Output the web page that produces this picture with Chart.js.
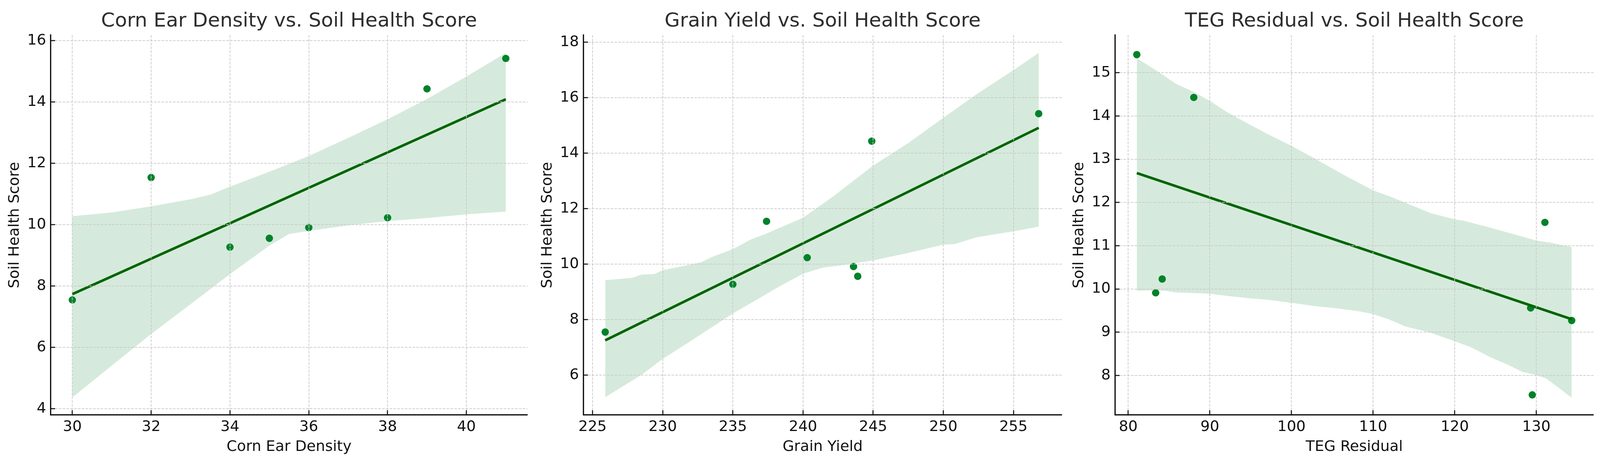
<!DOCTYPE html>
<html>
<head>
<meta charset="utf-8">
<script src="https://cdn.jsdelivr.net/npm/chart.js@4.4.1/dist/chart.umd.min.js"></script>
<style>
  html, body { margin: 0; padding: 0; background: #fff; overflow: hidden; }
  #wrap { position: relative; overflow: hidden; }
  .panel { position: absolute; top: 0; }
</style>
</head>
<body>
<div id="wrap"></div>
<script>
// shared y values (one per field), x values per panel
const soilHealth  = [7.55, 11.54, 9.27, 9.56, 9.91, 10.23, 14.43, 15.42];
const earDensity  = [30, 32, 34, 35, 36, 38, 39, 41];
const grainYield  = [225.9, 237.4, 235.0, 243.9, 243.6, 240.3, 244.9, 256.8];
const tegResidual = [129.5, 131.05, 134.33, 129.3, 83.36, 84.16, 88.03, 81.05];

// regression lines (read at both ends)
const earFitX = [30, 41];          const earFitY = [7.74, 14.09];
const yieldFitX = [225.9, 256.8];  const yieldFitY = [7.25, 14.91];
const tegFitX = [81.05, 134.33];   const tegFitY = [12.68, 9.30];

// confidence bands
const earUpX = [30, 31, 32, 33, 33.5, 34, 35, 36, 37, 38, 39, 40, 41];
const earUp  = [10.28, 10.4, 10.6, 10.83, 10.98, 11.24, 11.73, 12.24, 12.83, 13.44, 14.1, 14.83, 15.6];
const earLoX = [30, 31, 32, 33, 34, 35, 35.5, 36, 37, 38, 39, 40, 41];
const earLo  = [4.37, 5.41, 6.44, 7.41, 8.39, 9.32, 9.7, 9.8, 9.98, 10.12, 10.22, 10.34, 10.43];

const yieldUpX = [225.9, 227.8, 228.5, 229.4, 230, 231.2, 232.7, 233.6, 235, 236.3, 237.3, 240, 242.1, 245, 247.5, 250, 252.4, 255, 256.8];
const yieldUp  = [9.42, 9.5, 9.62, 9.64, 9.78, 9.9, 10.06, 10.27, 10.54, 10.89, 11.08, 11.67, 12.42, 13.55, 14.36, 15.27, 16.13, 16.99, 17.61];
const yieldLoX = [225.9, 228.5, 230, 232.4, 235, 237.3, 238.3, 240, 241.4, 242.7, 245, 247.5, 250, 250.8, 252.4, 255, 256.8];
const yieldLo  = [5.2, 6.01, 6.58, 7.36, 8.22, 8.89, 9.19, 9.65, 9.87, 9.95, 10.13, 10.4, 10.7, 10.72, 10.97, 11.18, 11.35];

const tegUpX = [81.05, 83.7, 85.8, 88, 90, 92.1, 95.1, 97.2, 100, 103, 106.4, 110, 111.9, 114, 117.1, 120, 121.1, 124.1, 126.6, 130, 131.7, 134.33];
const tegUp  = [15.34, 15.02, 14.75, 14.56, 14.35, 14.09, 13.78, 13.57, 13.31, 13.0, 12.64, 12.28, 12.15, 11.99, 11.75, 11.61, 11.58, 11.43, 11.3, 11.12, 11.07, 10.97];
const tegLoX = [81.05, 83.4, 84.5, 85.8, 88.7, 90, 92.1, 95.1, 97.2, 100, 103, 105.6, 108.1, 110, 111.9, 114, 117, 120, 122, 124.5, 126.6, 128.3, 130, 131.2, 132.9, 134.33];
const tegLo  = [9.96, 9.97, 9.96, 9.92, 9.9, 9.89, 9.84, 9.78, 9.75, 9.68, 9.6, 9.55, 9.49, 9.42, 9.3, 9.13, 8.99, 8.79, 8.65, 8.41, 8.24, 8.08, 8.01, 7.93, 7.69, 7.48];

// ticks
const earTicks = [30, 32, 34, 36, 38, 40];
const yieldTicks = [225, 230, 235, 240, 245, 250, 255];
const tegTicks = [80, 90, 100, 110, 120, 130];
const earSoilTicks = [4, 6, 8, 10, 12, 14, 16];
const yieldSoilTicks = [6, 8, 10, 12, 14, 16, 18];
const tegSoilTicks = [8, 9, 10, 11, 12, 13, 14, 15];

const FONT = 'DejaVu Sans';
// layout is measured in picture pixels (4328 x 1190) and scaled to the viewport
const PIC_W = 4328, PIC_H = 1190;
const de = document.documentElement;
const SX = de.clientWidth / PIC_W || 1;
const SY = de.clientHeight / PIC_H || 1;
const SF = (SX + SY) / 2;
const X = (v) => v * SX, Y = (v) => v * SY, F = (v) => v * SF;
const M = 137; // space left of each plot area

const panels = [
  { title: 'Corn Ear Density vs. Soil Health Score', xLabel: 'Corn Ear Density',
    xs: earDensity, fitX: earFitX, fitY: earFitY, upX: earUpX, up: earUp, loX: earLoX, lo: earLo,
    xTicks: earTicks, yTicks: earSoilTicks, xLim: [29.45, 41.55], yLim: [3.80, 16.18],
    left: 137, width: 1290 },
  { title: 'Grain Yield vs. Soil Health Score', xLabel: 'Grain Yield',
    xs: grainYield, fitX: yieldFitX, fitY: yieldFitY, upX: yieldUpX, up: yieldUp, loX: yieldLoX, lo: yieldLo,
    xTicks: yieldTicks, yTicks: yieldSoilTicks, xLim: [224.35, 258.45], yLim: [4.56, 18.25],
    left: 1578, width: 1294 },
  { title: 'TEG Residual vs. Soil Health Score', xLabel: 'TEG Residual',
    xs: tegResidual, fitX: tegFitX, fitY: tegFitY, upX: tegUpX, up: tegUp, loX: tegLoX, lo: tegLo,
    xTicks: tegTicks, yTicks: tegSoilTicks, xLim: [78.39, 137.0], yLim: [7.085, 15.87],
    left: 3016, width: 1294 }
];

function pairs(xs, ys) {
  return xs.map((x, i) => ({ x: x, y: ys[i] }));
}

function axis(lim, ticks, label, pos) {
  const bottom = pos === 'bottom';
  const tl = bottom ? Y(12) : X(12);
  return {
    type: 'linear',
    position: pos,
    min: lim[0],
    max: lim[1],
    afterBuildTicks: (s) => { s.ticks = ticks.map(v => ({ value: v })); },
    afterFit: (s) => { if (bottom) s.height = Y(128); else s.width = X(M); },
    grid: {
      color: '#c9c9c9', lineWidth: F(1.8), z: 1,
      drawTicks: true, tickLength: -tl, tickWidth: F(2.7), tickColor: '#111',
      tickBorderDash: []
    },
    border: { display: true, color: '#111', width: F(3.3), dash: [F(7), F(3)], z: 1 },
    ticks: {
      z: 1,
      autoSkip: false, maxRotation: 0, minRotation: 0,
      padding: bottom ? Y(31.4) - 0.6 * F(39) + tl : X(12.3) + tl,
      color: '#111',
      font: { family: FONT, size: F(39) },
      callback: (v) => String(v)
    },
    title: {
      display: true, text: label, color: '#111',
      font: { family: FONT, size: F(39) },
      padding: bottom ? { top: 0, bottom: Y(45.6) - 0.6 * F(39) } : { top: X(40.1) - 0.6 * F(39), bottom: 0 }
    }
  };
}

const wrap = document.getElementById('wrap');
wrap.style.width = X(PIC_W) + 'px';
wrap.style.height = Y(PIC_H) + 'px';

panels.forEach((p) => {
  const w = Math.round(X(p.width + 2 * M));
  const h = Math.round(Y(PIC_H));
  const box = document.createElement('div');
  box.className = 'panel';
  box.style.left = X(p.left - M) + 'px';
  box.style.width = w + 'px';
  box.style.height = h + 'px';
  const canvas = document.createElement('canvas');
  canvas.width = w;
  canvas.height = h;
  canvas.style.width = w + 'px';
  canvas.style.height = h + 'px';
  box.appendChild(canvas);
  wrap.appendChild(box);

  const titlePadTop = Y(55.3) - 0.6 * F(52);
  new Chart(canvas.getContext('2d'), {
    type: 'scatter',
    data: {
      datasets: [
        { type: 'line', data: pairs(p.fitX, p.fitY), borderColor: '#006400', borderWidth: F(6.7),
          pointRadius: 0, fill: false, borderCapStyle: 'butt' },
        { type: 'scatter', data: pairs(p.xs, soilHealth), backgroundColor: '#00822a',
          borderWidth: 0, pointRadius: F(9.7) },
        { type: 'line', data: pairs(p.upX, p.up), borderWidth: 0, borderColor: 'rgba(0,0,0,0)',
          pointRadius: 0, fill: '+1', backgroundColor: 'rgba(0,130,40,0.165)', tension: 0 },
        { type: 'line', data: pairs(p.loX, p.lo), borderWidth: 0, borderColor: 'rgba(0,0,0,0)',
          pointRadius: 0, fill: false, tension: 0 }
      ]
    },
    options: {
      responsive: false,
      animation: false,
      events: [],
      layout: { padding: { left: 0, right: X(M), top: 0, bottom: 0 } },
      plugins: {
        legend: { display: false },
        tooltip: { enabled: false },
        title: {
          display: true, text: p.title, color: '#2e2e2e',
          fullSize: false,
          font: { family: FONT, size: F(52), weight: 'normal' },
          padding: { top: titlePadTop, bottom: Y(90) - titlePadTop - 1.2 * F(52) }
        }
      },
      scales: {
        x: axis(p.xLim, p.xTicks, p.xLabel, 'bottom'),
        y: axis(p.yLim, p.yTicks, 'Soil Health Score', 'left')
      }
    }
  });
});
</script>
</body>
</html>
